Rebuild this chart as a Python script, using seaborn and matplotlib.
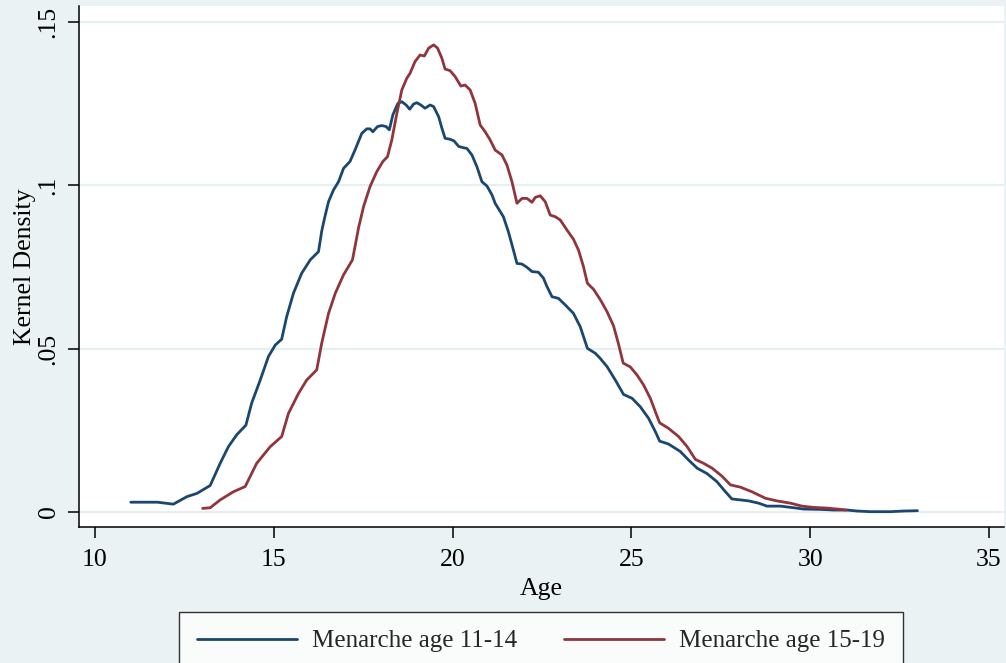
import numpy as np
import pandas as pd
import matplotlib
matplotlib.use("Agg")
import matplotlib.pyplot as plt
import seaborn as sns

# ---- data ----
series_labels = ["Menarche age 11-14", "Menarche age 15-19"]

age_1114 = [11.00, 11.75, 12.19, 12.57, 12.85, 13.22, 13.50, 13.73, 13.96, 14.22,
            14.38, 14.62, 14.85, 15.04, 15.22, 15.36, 15.55, 15.78, 16.02, 16.25,
            16.34, 16.42, 16.53, 16.67, 16.81, 16.95, 17.13, 17.27, 17.46, 17.60,
            17.69, 17.77, 17.90, 18.02, 18.14, 18.23, 18.33, 18.47, 18.58, 18.70,
            18.80, 18.91, 19.00, 19.11, 19.23, 19.37, 19.47, 19.61, 19.70, 19.79,
            19.93, 20.04, 20.17, 20.31, 20.40, 20.54, 20.68, 20.82, 20.96, 21.10,
            21.19, 21.42, 21.56, 21.70, 21.80, 21.94, 22.08, 22.22, 22.40, 22.54,
            22.64, 22.78, 22.96, 23.15, 23.38, 23.57, 23.77, 23.99, 24.13, 24.32,
            24.55, 24.78, 25.02, 25.25, 25.48, 25.67, 25.79, 26.04, 26.37, 26.60,
            26.84, 27.11, 27.39, 27.63, 27.81, 28.05, 28.28, 28.56, 28.79, 29.17,
            29.54, 29.82, 30.29, 30.66, 31.03, 31.31, 31.68, 32.24, 32.62, 33.00]
dens_1114 = [0.0030, 0.0030, 0.0024, 0.0047, 0.0057, 0.0081, 0.0149, 0.0200, 0.0236, 0.0266,
             0.0333, 0.0404, 0.0476, 0.0511, 0.0529, 0.0598, 0.0670, 0.0731, 0.0772, 0.0797,
             0.0860, 0.0900, 0.0950, 0.0986, 0.1011, 0.1052, 0.1073, 0.1108, 0.1159, 0.1173,
             0.1173, 0.1164, 0.1180, 0.1183, 0.1180, 0.1170, 0.1216, 0.1251, 0.1256, 0.1246,
             0.1233, 0.1249, 0.1253, 0.1246, 0.1236, 0.1246, 0.1241, 0.1210, 0.1175, 0.1144,
             0.1141, 0.1136, 0.1119, 0.1115, 0.1113, 0.1093, 0.1057, 0.1011, 0.0998, 0.0971,
             0.0945, 0.0904, 0.0858, 0.0802, 0.0761, 0.0759, 0.0749, 0.0736, 0.0734, 0.0716,
             0.0690, 0.0659, 0.0654, 0.0634, 0.0608, 0.0567, 0.0501, 0.0486, 0.0470, 0.0445,
             0.0404, 0.0360, 0.0348, 0.0322, 0.0287, 0.0246, 0.0217, 0.0208, 0.0185, 0.0159,
             0.0134, 0.0118, 0.0093, 0.0062, 0.0040, 0.0037, 0.0034, 0.0027, 0.0018, 0.0018,
             0.0013, 0.0009, 0.0008, 0.0006, 0.0006, 0.0003, 0.0001, 0.0001, 0.0003, 0.0004]

age_1519 = [13.01, 13.22, 13.50, 13.87, 14.20, 14.52, 14.90, 15.22, 15.41, 15.69,
            15.92, 16.20, 16.34, 16.53, 16.72, 16.95, 17.20, 17.37, 17.51, 17.69,
            17.88, 18.05, 18.18, 18.30, 18.44, 18.58, 18.72, 18.81, 18.95, 19.09,
            19.21, 19.33, 19.47, 19.58, 19.70, 19.79, 19.93, 20.07, 20.23, 20.35,
            20.49, 20.63, 20.77, 20.91, 21.05, 21.19, 21.38, 21.52, 21.66, 21.80,
            21.94, 22.08, 22.22, 22.31, 22.45, 22.59, 22.73, 22.87, 23.01, 23.20,
            23.38, 23.52, 23.66, 23.77, 23.94, 24.13, 24.32, 24.50, 24.64, 24.77,
            24.97, 25.16, 25.34, 25.53, 25.67, 25.79, 26.04, 26.32, 26.56, 26.79,
            27.02, 27.26, 27.53, 27.77, 28.05, 28.37, 28.75, 29.07, 29.45, 29.77,
            30.10, 30.47, 30.85, 31.00]
dens_1519 = [0.0011, 0.0013, 0.0037, 0.0062, 0.0078, 0.0149, 0.0200, 0.0231, 0.0302, 0.0363,
             0.0404, 0.0435, 0.0517, 0.0608, 0.0670, 0.0726, 0.0772, 0.0870, 0.0935, 0.0996,
             0.1042, 0.1073, 0.1088, 0.1139, 0.1220, 0.1292, 0.1328, 0.1343, 0.1379, 0.1399,
             0.1396, 0.1420, 0.1430, 0.1420, 0.1389, 0.1356, 0.1351, 0.1333, 0.1304, 0.1307,
             0.1292, 0.1251, 0.1185, 0.1164, 0.1139, 0.1108, 0.1093, 0.1062, 0.1011, 0.0945,
             0.0960, 0.0960, 0.0948, 0.0963, 0.0968, 0.0950, 0.0909, 0.0904, 0.0894, 0.0863,
             0.0835, 0.0802, 0.0751, 0.0700, 0.0682, 0.0650, 0.0613, 0.0570, 0.0514, 0.0456,
             0.0444, 0.0419, 0.0389, 0.0348, 0.0307, 0.0273, 0.0256, 0.0231, 0.0200, 0.0161,
             0.0149, 0.0134, 0.0110, 0.0083, 0.0076, 0.0062, 0.0042, 0.0034, 0.0027, 0.0018,
             0.0014, 0.0012, 0.0008, 0.0006]

x_ticks = [10, 15, 20, 25, 30, 35]
y_ticks = [0, 0.05, 0.10, 0.15]
y_tick_labels = ["0", ".05", ".1", ".15"]
x_label = "Age"
y_label = "Kernel Density"

# ---- style ----
BG = "#eaf2f3"
GRID = "#e6eff1"
BLUE = "#1a476f"
RED = "#90353b"

sns.set_theme(style="white")
plt.rcParams["font.family"] = ["Liberation Serif", "DejaVu Serif"]

df = pd.concat([
    pd.DataFrame({"Age": age_1114, "Density": dens_1114, "Series": series_labels[0]}),
    pd.DataFrame({"Age": age_1519, "Density": dens_1519, "Series": series_labels[1]}),
], ignore_index=True)

W, H = 1006, 663
fig = plt.figure(figsize=(W / 100, H / 100), dpi=100, facecolor=BG)
ax = fig.add_axes([79 / W, 1 - 527 / H, (1004 - 79) / W, (527 - 6) / H])
ax.set_facecolor("white")

sns.lineplot(data=df, x="Age", y="Density", hue="Series",
             palette={series_labels[0]: BLUE, series_labels[1]: RED},
             estimator=None, sort=False, linewidth=2.0, ax=ax, legend=True)
for ln in ax.get_lines():
    ln.set_solid_joinstyle("round")

handles, labels = ax.get_legend_handles_labels()
ax.get_legend().remove()

ax.set_xlim(9.552, 35.42)
ax.set_ylim(-0.00459, 0.1549)
ax.set_xticks(x_ticks)
ax.set_xticklabels([str(t) for t in x_ticks])
ax.set_yticks(y_ticks)
ax.set_yticklabels(y_tick_labels, rotation=90, va="center")

ax.yaxis.grid(True, color=GRID, linewidth=1.6)
ax.xaxis.grid(False)
ax.set_axisbelow(True)

for s in ["top", "right"]:
    ax.spines[s].set_visible(False)
for s in ["left", "bottom"]:
    ax.spines[s].set_color("black")
    ax.spines[s].set_linewidth(1.1)

ax.tick_params(axis="both", direction="out", length=8, width=1.1, color="black",
               labelsize=18.5, labelcolor="black", left=True, bottom=True)
ax.tick_params(axis="y", pad=6)
ax.tick_params(axis="x", pad=8)

ax.set_xlabel(x_label, fontsize=18.5, color="black", labelpad=5)
ax.set_ylabel(y_label, fontsize=18.5, color="black", labelpad=1)

leg = fig.legend(handles, labels, loc="center", ncol=2,
                 bbox_to_anchor=(541 / W, 1 - 641 / H),
                 frameon=True, fancybox=False, edgecolor="black", facecolor="white",
                 fontsize=18, handlelength=4.0, handletextpad=0.6, columnspacing=1.9,
                 borderpad=0.7, borderaxespad=0)
leg.get_frame().set_linewidth(1.0)
for h in leg.get_lines():
    h.set_linewidth(2.0)

fig.savefig("out.png", dpi=100, facecolor=BG)
